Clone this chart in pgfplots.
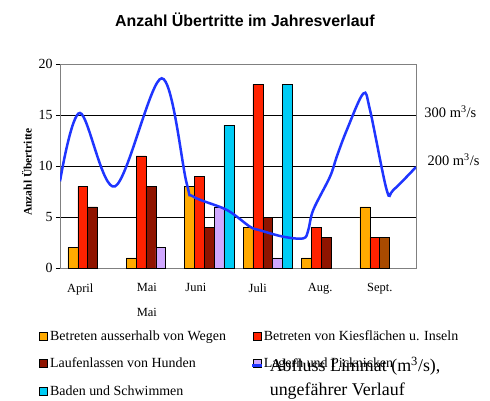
\documentclass[border=0pt]{standalone}
\usepackage{fontspec}
\setmainfont{Liberation Serif}
\newfontfamily\arialfont{Liberation Sans}
\usepackage{pgfplots}
\pgfplotsset{compat=1.18}
\definecolor{cOrange}{HTML}{FFAA00}
\definecolor{cRed}{HTML}{FF2200}
\definecolor{cDark}{HTML}{8F1400}
\definecolor{cLilac}{HTML}{D0A8FF}
\definecolor{cCyan}{HTML}{00CCF5}
\definecolor{cBrown}{HTML}{A84A00}
\definecolor{cBlue}{HTML}{1F35FF}
\definecolor{cGray}{HTML}{808080}
\pgfplotsset{
 bluelegend/.style={legend image code/.code={\path[draw=none,fill=none] (0bp,-4bp) rectangle (8bp,4bp);\draw[##1, overlay, line width=2.5bp] (-1bp,26bp) -- (9bp,26bp);}},
 sqlegend/.style={legend image code/.code={\draw[##1, line width=0.8bp] (0bp,-4bp) rectangle (8bp,4bp);}}
}
\begin{document}
\begin{tikzpicture}
\useasboundingbox (-60bp,-133bp) rectangle (430bp,268bp);
\node[font=\arialfont\bfseries\fontsize{16}{18}\selectfont] at (185bp,248bp) {Anzahl Übertritte im Jahresverlauf};
\begin{axis}[
 at={(0,0)}, anchor=south west, scale only axis, width=356bp, height=204bp,
 xmin=-0.556, xmax=5.54, ymin=0, ymax=20,
 ytick={0,5,10,15,20}, ymajorgrids, grid style={black, line width=0.6bp},
 axis line style={cGray, line width=0.8bp},
 ytick pos=left, tick align=outside, major tick length=4bp,
 ytick style={black, line width=0.6bp},
 xtick={-0.21,0.93,1.77,2.83,3.90,4.92},
 xticklabels={April,{Mai\\[11bp]Mai},Juni,Juli,Aug.,Sept.},
 xticklabel style={align=center, anchor=north, yshift=-8bp, font=\fontsize{12.5}{14}\selectfont},
 xtick style={draw=none},
 yticklabel style={font=\fontsize{14}{16}\selectfont},
 /pgf/number format/assume math mode=true,
 ylabel={\bfseries Anzahl Übertritte},
 ylabel style={font=\fontsize{11.5}{13}\selectfont, at={(ticklabel cs:0.5)}, xshift=-6bp},
 ybar, bar width=0.168,
 clip mode=individual,
 legend columns=2,
 legend cell align=left,
 legend style={draw=none, fill=none, at={(-0.067,-0.285)}, anchor=north west,
   font=\fontsize{14}{16}\selectfont, row sep=12.5bp,
   /tikz/column 2/.style={column sep=25bp}},
]
\addplot[fill=cOrange, draw=black, line width=0.5bp, bar shift=-0.336, sqlegend]
 coordinates {(0,2)(1,1)(2,8)(3,4)(4,1)(5,6)};
\addlegendentry{Betreten ausserhalb von Wegen}
\addplot[fill=cRed, draw=black, line width=0.5bp, bar shift=-0.168, sqlegend]
 coordinates {(0,8)(1,11)(2,9)(3,18)(4,4)(5,3)};
\addlegendentry{Betreten von Kiesflächen u. Inseln}
\addplot[fill=cDark, draw=black, line width=0.5bp, bar shift=0, sqlegend]
 coordinates {(0,6)(1,8)(2,4)(3,5)(4,3)};
\addlegendentry{Laufenlassen von Hunden}
\addplot[fill=cLilac, draw=black, line width=0.5bp, bar shift=0.168, sqlegend]
 coordinates {(1,2)(2,6)(3,1)};
\addlegendentry{Lagern und Picknicken}
\addplot[fill=cCyan, draw=black, line width=0.5bp, bar shift=0.336, sqlegend]
 coordinates {(2,14)(3,18)};
\addlegendentry{Baden und Schwimmen}
\addplot[fill=cBrown, draw=black, line width=0.5bp, bar shift=0, forget plot]
 coordinates {(5,3)};
\addplot[sharp plot, smooth, tension=0.55, cBlue, line width=2.5bp, bluelegend]
 coordinates {(-0.556,8.5)(-0.214,15.2)(0.385,8.0)(1.185,18.6)(1.613,8.3)(1.726,7.0)
  (2.298,5.7)(2.697,4.05)(2.868,3.7)(3.267,3.07)(3.610,2.9)(3.695,3.7)(3.781,5.7)
  (4.067,8.95)(4.182,10.9)(4.353,13.5)(4.637,17.1)(4.752,15.5)(5.038,7.65)(5.151,7.65)(5.54,9.9)};
\addlegendentry{\hspace{6bp}\raisebox{-5bp}[0pt][0pt]{\fontsize{18}{24}\selectfont\begin{tabular}[b]{@{}l@{}}Abfluss Limmat (m\textsuperscript{3}/s),\\ungefährer Verlauf\end{tabular}}}
\node[anchor=west, font=\fontsize{14.5}{16}\selectfont] at (axis cs:5.625,15.33) {300 m\textsuperscript{3}/s};
\node[anchor=west, font=\fontsize{14.5}{16}\selectfont] at (axis cs:5.68,10.6) {200 m\textsuperscript{3}/s};
\end{axis}
\end{tikzpicture}
\end{document}
